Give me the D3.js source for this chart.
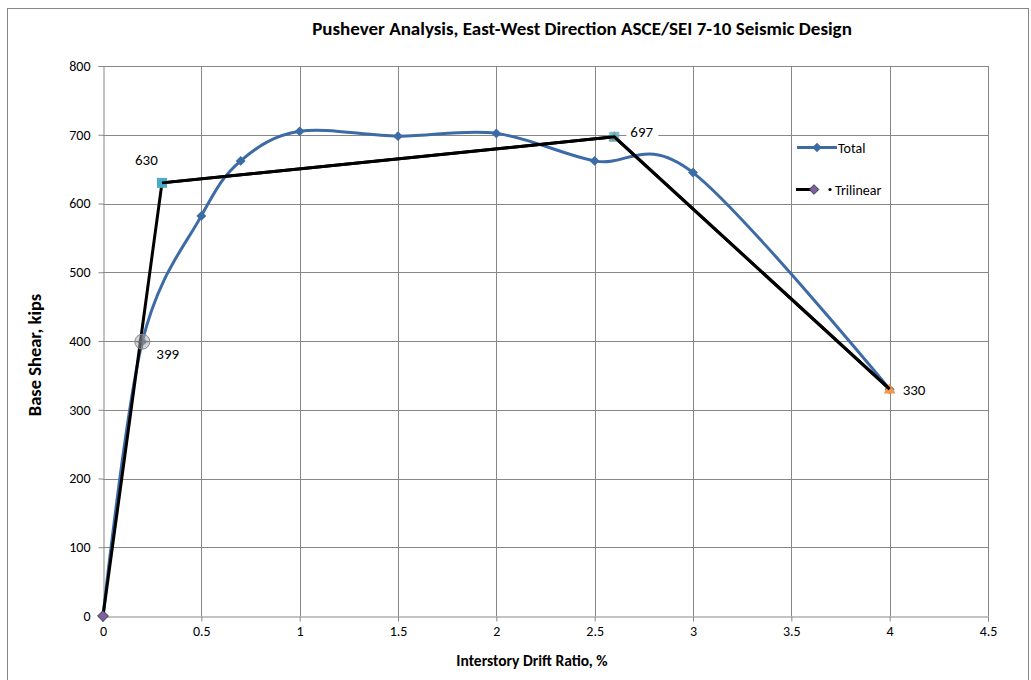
<!DOCTYPE html>
<html>
<head>
<meta charset="utf-8">
<script src="https://cdn.jsdelivr.net/npm/d3@7/dist/d3.min.js"></script>
<style>
  html, body { margin: 0; padding: 0; background: #fff; }
  svg text { font-family: Carlito, Lato, "Open Sans", sans-serif; fill: #000; }
</style>
</head>
<body>
<svg id="chart" width="1031" height="680"></svg>
<script>
// Pushover curve (total base shear vs. drift) and its trilinear idealisation
const totalDrift = [0, 0.2, 0.5, 0.7, 1.0, 1.5, 2.0, 2.5, 3.0, 4.0];
const totalShear = [0, 399, 582, 662, 705, 698, 702, 662, 645, 330];

const triDrift = [0, 0.3, 2.6, 4.0];
const triShear = [0, 630, 697, 330];

// Key points on the trilinear curve
const keyDrift = [0.2, 0.3, 2.6, 4.0];
const keyShear = [399, 630, 697, 330];
const keyLabels = ["399", "630", "697", "330"];

const xTicks = [0, 0.5, 1, 1.5, 2, 2.5, 3, 3.5, 4, 4.5];
const yTicks = [0, 100, 200, 300, 400, 500, 600, 700, 800];

const svg = d3.select("#chart");
const x = d3.scaleLinear().domain([0, 4.5]).range([103, 988]);
const y = d3.scaleLinear().domain([0, 800]).range([616, 66]);

const gridColor = "#878787";
const fontStack = "Carlito, Lato, 'Open Sans', sans-serif";

// outer chart frame
svg.append("rect")
  .attr("x", 7.5).attr("y", 8.5).attr("width", 1021).attr("height", 700)
  .attr("fill", "none").attr("stroke", gridColor).attr("stroke-width", 1);

// gridlines
const grid = svg.append("g");
grid.selectAll("line.h").data(yTicks.slice(1)).join("line")
  .attr("x1", x(0)).attr("x2", x(4.5))
  .attr("y1", d => Math.round(y(d)) + 0.5).attr("y2", d => Math.round(y(d)) + 0.5)
  .attr("stroke", gridColor);
grid.selectAll("line.v").data(xTicks.slice(1)).join("line")
  .attr("y1", y(0)).attr("y2", y(800))
  .attr("x1", d => Math.round(x(d)) + 0.5).attr("x2", d => Math.round(x(d)) + 0.5)
  .attr("stroke", gridColor);

// axes
const xAxis = d3.axisBottom(x).tickValues(xTicks).tickFormat(d3.format("")).tickSize(5).tickPadding(5);
const yAxis = d3.axisLeft(y).tickValues(yTicks).tickFormat(d3.format("")).tickSize(5).tickPadding(8);

const gx = svg.append("g").attr("transform", `translate(0,${Math.round(y(0)) + 0.5})`).call(xAxis);
const gy = svg.append("g").attr("transform", `translate(${Math.round(x(0)) + 0.5},0)`).call(yAxis);
[gx, gy].forEach(g => {
  g.select(".domain").attr("stroke", gridColor);
  g.selectAll(".tick line").attr("stroke", gridColor);
  g.selectAll(".tick text").attr("font-size", 14).attr("font-family", fontStack);
});

// smoothed total curve
const totalPts = totalDrift.map((d, i) => [d, totalShear[i]]);
const triPts = triDrift.map((d, i) => [d, triShear[i]]);
const totalColor = "#3d6ba6";

svg.append("path")
  .attr("d", d3.line().x(d => x(d[0])).y(d => y(d[1])).curve(d3.curveCardinal.tension(0))(totalPts))
  .attr("fill", "none").attr("stroke", totalColor).attr("stroke-width", 3);

const diamond = d3.symbol().type(d3.symbolDiamond2);
svg.append("g").selectAll("path").data(totalPts.filter(p => p[0] > 0)).join("path")
  .attr("d", diamond.size(62)())
  .attr("transform", d => `translate(${x(d[0])},${y(d[1])})`)
  .attr("fill", totalColor);

// trilinear idealisation
svg.append("path")
  .attr("d", d3.line().x(d => x(d[0])).y(d => y(d[1]))(triPts))
  .attr("fill", "none").attr("stroke", "#000").attr("stroke-width", 3);

// origin marker of the trilinear series
svg.append("path")
  .attr("d", diamond.size(75)())
  .attr("transform", `translate(${x(triPts[0][0])},${y(triPts[0][1])})`)
  .attr("fill", "#7d60a0").attr("stroke", "#222").attr("stroke-width", 0.8);

// key-point markers
const kp = keyDrift.map((d, i) => ({ x: d, y: keyShear[i], label: keyLabels[i] }));
// first yield: grey circle
svg.append("circle")
  .attr("cx", x(kp[0].x)).attr("cy", y(kp[0].y)).attr("r", 7.5)
  .attr("fill", "#a8a8a8").attr("fill-opacity", 0.5)
  .attr("stroke", "#8a8a8a").attr("stroke-width", 1);
svg.append("path")
  .attr("d", `M${x(kp[0].x) - 7},${y(kp[0].y)}H${x(kp[0].x) + 7}M${x(kp[0].x)},${y(kp[0].y) - 7}V${y(kp[0].y) + 7}`)
  .attr("stroke", "#777").attr("stroke-width", 1);

// triangles at peak and ultimate
const tri = d3.symbol().type(d3.symbolTriangle).size(60);
[kp[2], kp[3]].forEach(p => {
  svg.append("path").attr("d", tri()).attr("transform", `translate(${x(p.x)},${y(p.y) + 1})`).attr("fill", "#f79646");
});
// squares at yield and peak
[kp[1], kp[2]].forEach(p => {
  svg.append("rect")
    .attr("x", x(p.x) - 5).attr("y", y(p.y) - 5).attr("width", 10).attr("height", 10)
    .attr("fill", "#4bacc6").attr("fill-opacity", p === kp[2] ? 0.75 : 1);
});
// keep the trilinear line on top of the peak square
svg.append("path")
  .attr("d", d3.line().x(d => x(d[0])).y(d => y(d[1]))(triPts.slice(1)))
  .attr("fill", "none").attr("stroke", "#000").attr("stroke-width", 3);

// value labels
const labelPos = [
  { dx: 14, dy: 12, bg: true },    // 399
  { dx: -27, dy: -23, bg: false }, // 630
  { dx: 16, dy: -5, bg: true },    // 697
  { dx: 13, dy: 1, bg: false }     // 330
];
kp.forEach((p, i) => {
  const lx = x(p.x) + labelPos[i].dx, ly = y(p.y) + labelPos[i].dy;
  if (labelPos[i].bg) {
    svg.append("rect").attr("x", lx - 4).attr("y", ly - 10).attr("width", 32).attr("height", 19).attr("fill", "#fff");
  }
  svg.append("text").attr("x", lx).attr("y", ly).attr("dy", "0.35em")
    .attr("font-size", 15).text(p.label);
});

// legend
const lg = svg.append("g");
lg.append("line").attr("x1", 797).attr("x2", 837).attr("y1", 147.5).attr("y2", 147.5)
  .attr("stroke", totalColor).attr("stroke-width", 3);
lg.append("path").attr("d", diamond.size(55)()).attr("transform", "translate(817,147.5)").attr("fill", totalColor);
lg.append("text").attr("x", 838).attr("y", 148).attr("dy", "0.35em").attr("font-size", 14).text("Total");

lg.append("line").attr("x1", 796).attr("x2", 818).attr("y1", 189.5).attr("y2", 189.5)
  .attr("stroke", "#000").attr("stroke-width", 3);
lg.append("path").attr("d", diamond.size(60)()).attr("transform", "translate(814,189.5)")
  .attr("fill", "#7d60a0").attr("stroke", "#222").attr("stroke-width", 0.8);
lg.append("circle").attr("cx", 830).attr("cy", 189.5).attr("r", 1.6).attr("fill", "#000");
lg.append("text").attr("x", 835).attr("y", 190).attr("dy", "0.35em").attr("font-size", 14).text("Trilinear");

// titles
svg.append("text").attr("x", 582).attr("y", 35).attr("text-anchor", "middle")
  .attr("font-size", 19).attr("font-weight", "bold")
  .text("Pushever Analysis, East-West Direction ASCE/SEI 7-10 Seismic Design");
svg.append("text").attr("transform", "translate(41,355) rotate(-90)").attr("text-anchor", "middle")
  .attr("font-size", 18.5).attr("font-weight", "bold").text("Base Shear, kips");
svg.append("text").attr("x", 532).attr("y", 666).attr("text-anchor", "middle")
  .attr("font-size", 15.5).attr("font-weight", "bold").text("Interstory Drift Ratio, %");
</script>
</body>
</html>
